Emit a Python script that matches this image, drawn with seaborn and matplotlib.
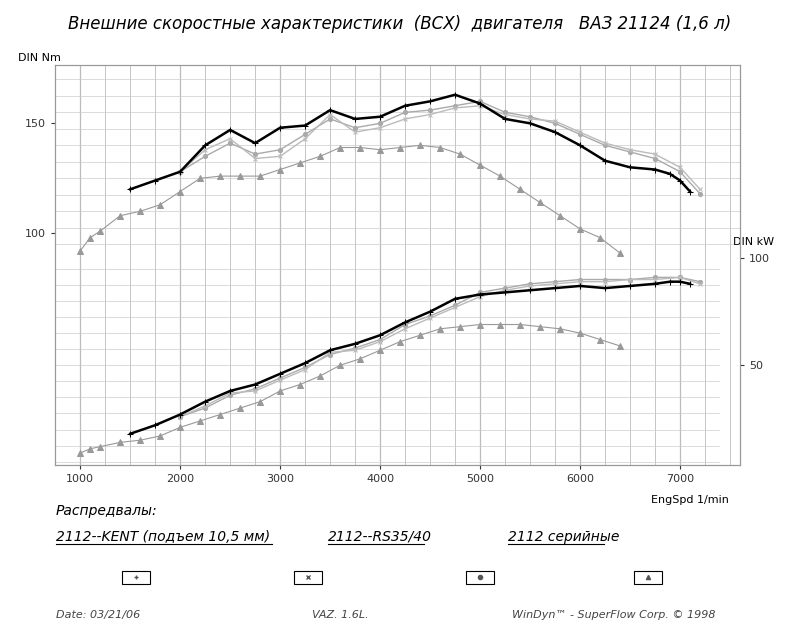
import numpy as np
import pandas as pd
import matplotlib.pyplot as plt
import seaborn as sns

# torque, Nm
kent_rpm = [1500, 1750, 2000, 2250, 2500, 2750, 3000, 3250, 3500, 3750, 4000, 4250, 4500, 4750,
            5000, 5250, 5500, 5750, 6000, 6250, 6500, 6750, 6900, 7000, 7100]
kent_nm = [120, 124, 128, 140, 147, 141, 148, 149, 156, 152, 153, 158, 160, 163,
           159, 152, 150, 146, 140, 133, 130, 129, 127, 124, 119]
rs_rpm = [2000, 2250, 2500, 2750, 3000, 3250, 3500, 3750, 4000, 4250, 4500, 4750, 5000,
          5250, 5500, 5750, 6000, 6250, 6500, 6750, 7000, 7200]
rs_nm = [128, 135, 141, 136, 138, 145, 152, 148, 150, 155, 156, 158, 160,
         155, 153, 150, 145, 140, 137, 134, 128, 118]
x_nm = [128, 138, 143, 134, 135, 143, 154, 146, 148, 152, 154, 157, 158,
        154, 152, 151, 146, 141, 138, 136, 130, 120]
ser_rpm = [1000, 1100, 1200, 1400, 1600, 1800, 2000, 2200, 2400, 2600, 2800, 3000, 3200, 3400,
           3600, 3800, 4000, 4200, 4400, 4600, 4800, 5000, 5200, 5400, 5600, 5800, 6000, 6200, 6400]
ser_nm = [92, 98, 101, 108, 110, 113, 119, 125, 126, 126, 126, 129, 132, 135,
          139, 139, 138, 139, 140, 139, 136, 131, 126, 120, 114, 108, 102, 98, 91]

# power, kW
kent_kw = [18, 22, 27, 33, 38, 41, 46, 51, 57, 60, 64, 70, 75, 81,
           83, 84, 85, 86, 87, 86, 87, 88, 89, 89, 88]
rs_kw = [26, 30, 36, 39, 44, 49, 55, 58, 62, 69, 73, 78, 84,
         86, 88, 89, 90, 90, 90, 91, 91, 89]
x_kw = [26, 31, 37, 38, 43, 48, 56, 57, 61, 67, 72, 77, 82,
        85, 87, 88, 89, 89, 90, 90, 91, 88]
ser_kw = [9, 11, 12, 14, 15, 17, 21, 24, 27, 30, 33, 38, 41, 45,
          50, 53, 57, 61, 64, 67, 68, 69, 69, 69, 68, 67, 65, 62, 59]

fig = plt.figure(figsize=(8, 6.4), dpi=100)
ax = fig.add_axes([0.069, 0.273, 0.856, 0.625])
ax.set_xlim(750, 7600)
ax.set_ylim(-5.5, 176.4)
ax2 = ax.twinx()
ax2.set_ylim(3.3, 190)

for a in (ax, ax2):
    for s in a.spines.values():
        s.set_color('#999999')

# grid
for xv in range(1000, 7600, 250):
    ax.axvline(xv, color='#bbbbbb', lw=0.6 if xv % 1000 else 0.9, zorder=0)
for yv in np.arange(95, 176, 7.5):
    ax.axhline(yv, color='#cccccc', lw=0.5, zorder=0)
for yv in np.arange(5, 96, 7.5):
    ax2.axhline(yv, xmin=0, xmax=0.97, color='#cccccc', lw=0.5, zorder=0)

def series(a, rpm, val, color, marker, lw, ms):
    df = pd.DataFrame({'rpm': rpm, 'v': val})
    sns.lineplot(data=df, x='rpm', y='v', ax=a, color=color, lw=lw, marker=marker,
                 markersize=ms, markeredgecolor=color, markerfacecolor=color, legend=False)

series(ax, rs_rpm, rs_nm, '#aaaaaa', 'o', 1.0, 3)
series(ax, rs_rpm, x_nm, '#bbbbbb', 'x', 1.0, 3)
series(ax, ser_rpm, ser_nm, '#999999', '^', 0.8, 4)
series(ax, kent_rpm, kent_nm, 'black', '+', 1.8, 4)
series(ax2, rs_rpm, rs_kw, '#aaaaaa', 'o', 1.0, 3)
series(ax2, rs_rpm, x_kw, '#bbbbbb', 'x', 1.0, 3)
series(ax2, ser_rpm, ser_kw, '#999999', '^', 0.8, 4)
series(ax2, kent_rpm, kent_kw, 'black', '+', 1.8, 4)

ax.set_xticks(range(1000, 8000, 1000))
ax.set_yticks([100, 150])
ax2.set_yticks([50, 100])
for a in (ax, ax2):
    a.set_xlabel('')
    a.set_ylabel('')
    a.tick_params(labelsize=8, colors='#333333', length=3)
ax.text(-0.055, 1.01, 'DIN Nm', transform=ax.transAxes, fontsize=8)
ax.text(0.99, 0.55, 'DIN kW', transform=ax.transAxes, fontsize=8)
ax.text(0.87, -0.095, 'EngSpd 1/min', transform=ax.transAxes, fontsize=8)

fig.text(0.5, 0.955, 'Внешние скоростные характеристики  (ВСХ)  двигателя   ВАЗ 21124 (1,6 л)',
         ha='center', fontsize=12, style='italic')
fig.text(0.07, 0.195, 'Распредвалы:', fontsize=10, style='italic')
legend = [('2112--KENT (подъем 10,5 мм)', 0.07, 0.205, '+'),
          ('2112--RS35/40', 0.41, 0.37, 'o'),
          ('2112 серийные', 0.635, 0.80, '^')]
for lab, x, bx, m in legend:
    fig.text(x, 0.155, lab, fontsize=10, style='italic')
    fig.add_artist(plt.Line2D([x, x + 0.27 if x < 0.1 else x + 0.12], [0.15, 0.15],
                              color='black', lw=0.8, transform=fig.transFigure))
for bx, m in [(0.17, '+'), (0.385, 'x'), (0.6, 'o'), (0.81, '^')]:
    fig.add_artist(plt.Rectangle((bx - 0.018, 0.088), 0.036, 0.02, fill=False,
                                 lw=0.8, transform=fig.transFigure))
    fig.add_artist(plt.Line2D([bx], [0.098], marker=m, markersize=3, color='#555555',
                              transform=fig.transFigure))
fig.text(0.07, 0.035, 'Date: 03/21/06', fontsize=8, style='italic', color='#444444')
fig.text(0.39, 0.035, 'VAZ. 1.6L.', fontsize=8, style='italic', color='#444444')
fig.text(0.64, 0.035, 'WinDyn™ - SuperFlow Corp. © 1998', fontsize=8, style='italic', color='#444444')

fig.savefig('out.png', dpi=100)
